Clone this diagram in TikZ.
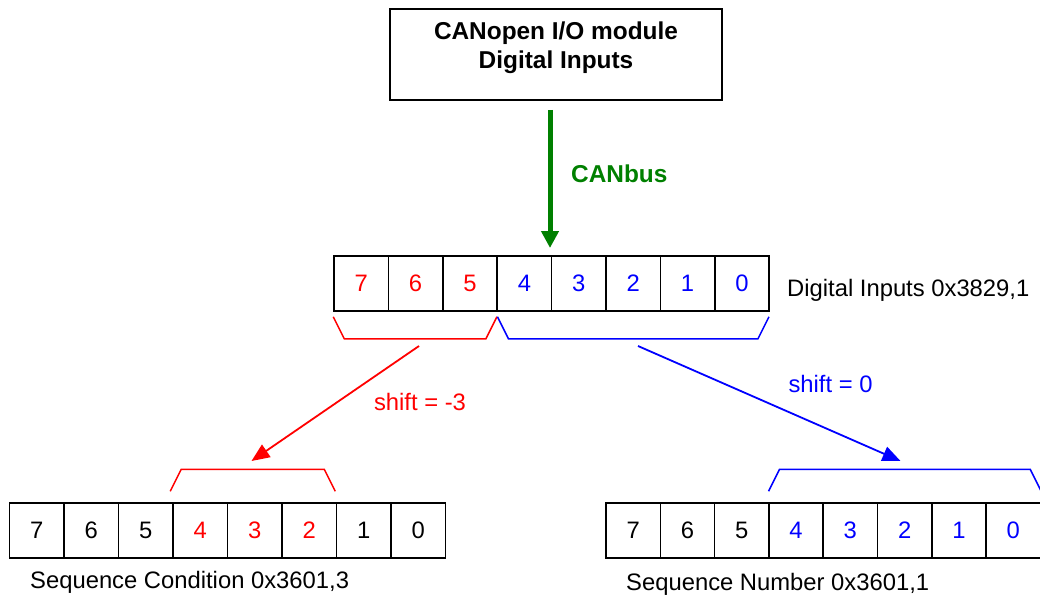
\documentclass[tikz,border=0pt]{standalone}
\usepackage{fontspec}
\setmainfont{Liberation Sans}
\usetikzlibrary{arrows.meta,calc}
\definecolor{cgreen}{RGB}{0,128,0}
\begin{document}
\begin{tikzpicture}[x=1pt,y=-1pt,
  every node/.style={font=\fontsize{23.8}{28}\selectfont},
  cell/.style={draw=black,line width=1.5pt,minimum width=54.4pt,minimum height=55pt,inner sep=0pt},
  modbox/.style={draw=black,line width=1.5pt,minimum width=332pt,minimum height=91pt,inner sep=0pt},
  brk/.style={line width=1.5pt,line join=miter},
  shiftarrow/.style={line width=1.8pt,-{Triangle[length=18pt,width=15pt]}},
  lbl/.style={inner sep=0pt,anchor=base west},
  boldtxt/.style={font=\fontsize{24.4}{28.5}\selectfont\bfseries}
]
\useasboundingbox (0,0) rectangle (1040,596);
\begin{scope}
\clip (0,0) rectangle (1040,596);
% top module box
\node[modbox] (top) at (556,54.5) {};
\node[boldtxt,align=center,inner sep=0pt] (toptext) at ($(top.center)+(0,-7)$) {CANopen I/O module\\Digital Inputs};

% CANbus arrow
\coordinate (gs) at (550,110);
\coordinate (ge) at (550,248);
\draw[cgreen,line width=5pt,-{Triangle[length=17pt,width=17pt]}] (gs) -- (ge);
\node[boldtxt,text=cgreen,anchor=west,inner sep=0pt] (canbus) at (571,174) {CANbus};

% middle register
\foreach \b [count=\i from 0] in {7,6,5,4,3,2,1,0} {
  \pgfmathsetmacro\cx{334+27.2+\i*54.4}
  \ifnum\b>4
    \node[cell,text=red] (m\b) at (\cx,283.5) {\b};
  \else
    \node[cell,text=blue] (m\b) at (\cx,283.5) {\b};
  \fi
}
\node[lbl] (dilabel) at (787,296) {Digital Inputs 0x3829,1};

% brackets under middle register
\draw[brk,red] ($(m7.south west)+(0,5)$) -- ++(11,22) -- ($(m5.south east)+(-12,27)$) -- ($(m5.south east)+(-1,5)$);
\draw[brk,blue] ($(m4.south west)+(1,5)$) -- ++(11,22) -- ($(m0.south east)+(-12,27)$) -- ($(m0.south east)+(-1,5)$);

% bottom left register
\foreach \b [count=\i from 0] in {7,6,5,4,3,2,1,0} {
  \pgfmathsetmacro\cx{9.5+27.25+\i*54.5}
  \ifnum\b>4
    \node[cell,minimum width=54.5pt] (l\b) at (\cx,530.5) {\b};
  \else\ifnum\b>1
    \node[cell,minimum width=54.5pt,text=red] (l\b) at (\cx,530.5) {\b};
  \else
    \node[cell,minimum width=54.5pt] (l\b) at (\cx,530.5) {\b};
  \fi\fi
}
\node[lbl] (sclabel) at (30,588) {Sequence Condition 0x3601,3};
\draw[brk,red] ($(l4.north west)+(-2,-11)$) -- ++(11,-22) -- ($(l2.north east)+(-13,-33)$) -- ($(l2.north east)+(-2,-11)$);

% bottom right register
\foreach \b [count=\i from 0] in {7,6,5,4,3,2,1,0} {
  \pgfmathsetmacro\cx{606+27.15+\i*54.3}
  \ifnum\b>4
    \node[cell,minimum width=54.3pt] (r\b) at (\cx,530.5) {\b};
  \else
    \node[cell,minimum width=54.3pt,text=blue] (r\b) at (\cx,530.5) {\b};
  \fi
}
\node[lbl] (snlabel) at (626,590) {Sequence Number 0x3601,1};
\draw[brk,blue] ($(r4.north west)+(0.4,-11)$) -- ++(11,-22) -- ($(r0.north east)+(-11,-33)$) -- ($(r0.north east)+(0,-11)$);

% shift arrows
\coordinate (rs) at (419,346);
\coordinate (re) at (251.5,461);
\draw[shiftarrow,red] (rs) -- (re);
\node[text=red,inner sep=0pt] (shl) at (420,402) {shift = -3};
\coordinate (bs) at (638,346);
\coordinate (be) at (900.5,461);
\draw[shiftarrow,blue] (bs) -- (be);
\node[text=blue,inner sep=0pt] (shr) at (830.5,384) {shift = 0};
\end{scope}
\end{tikzpicture}
\end{document}
